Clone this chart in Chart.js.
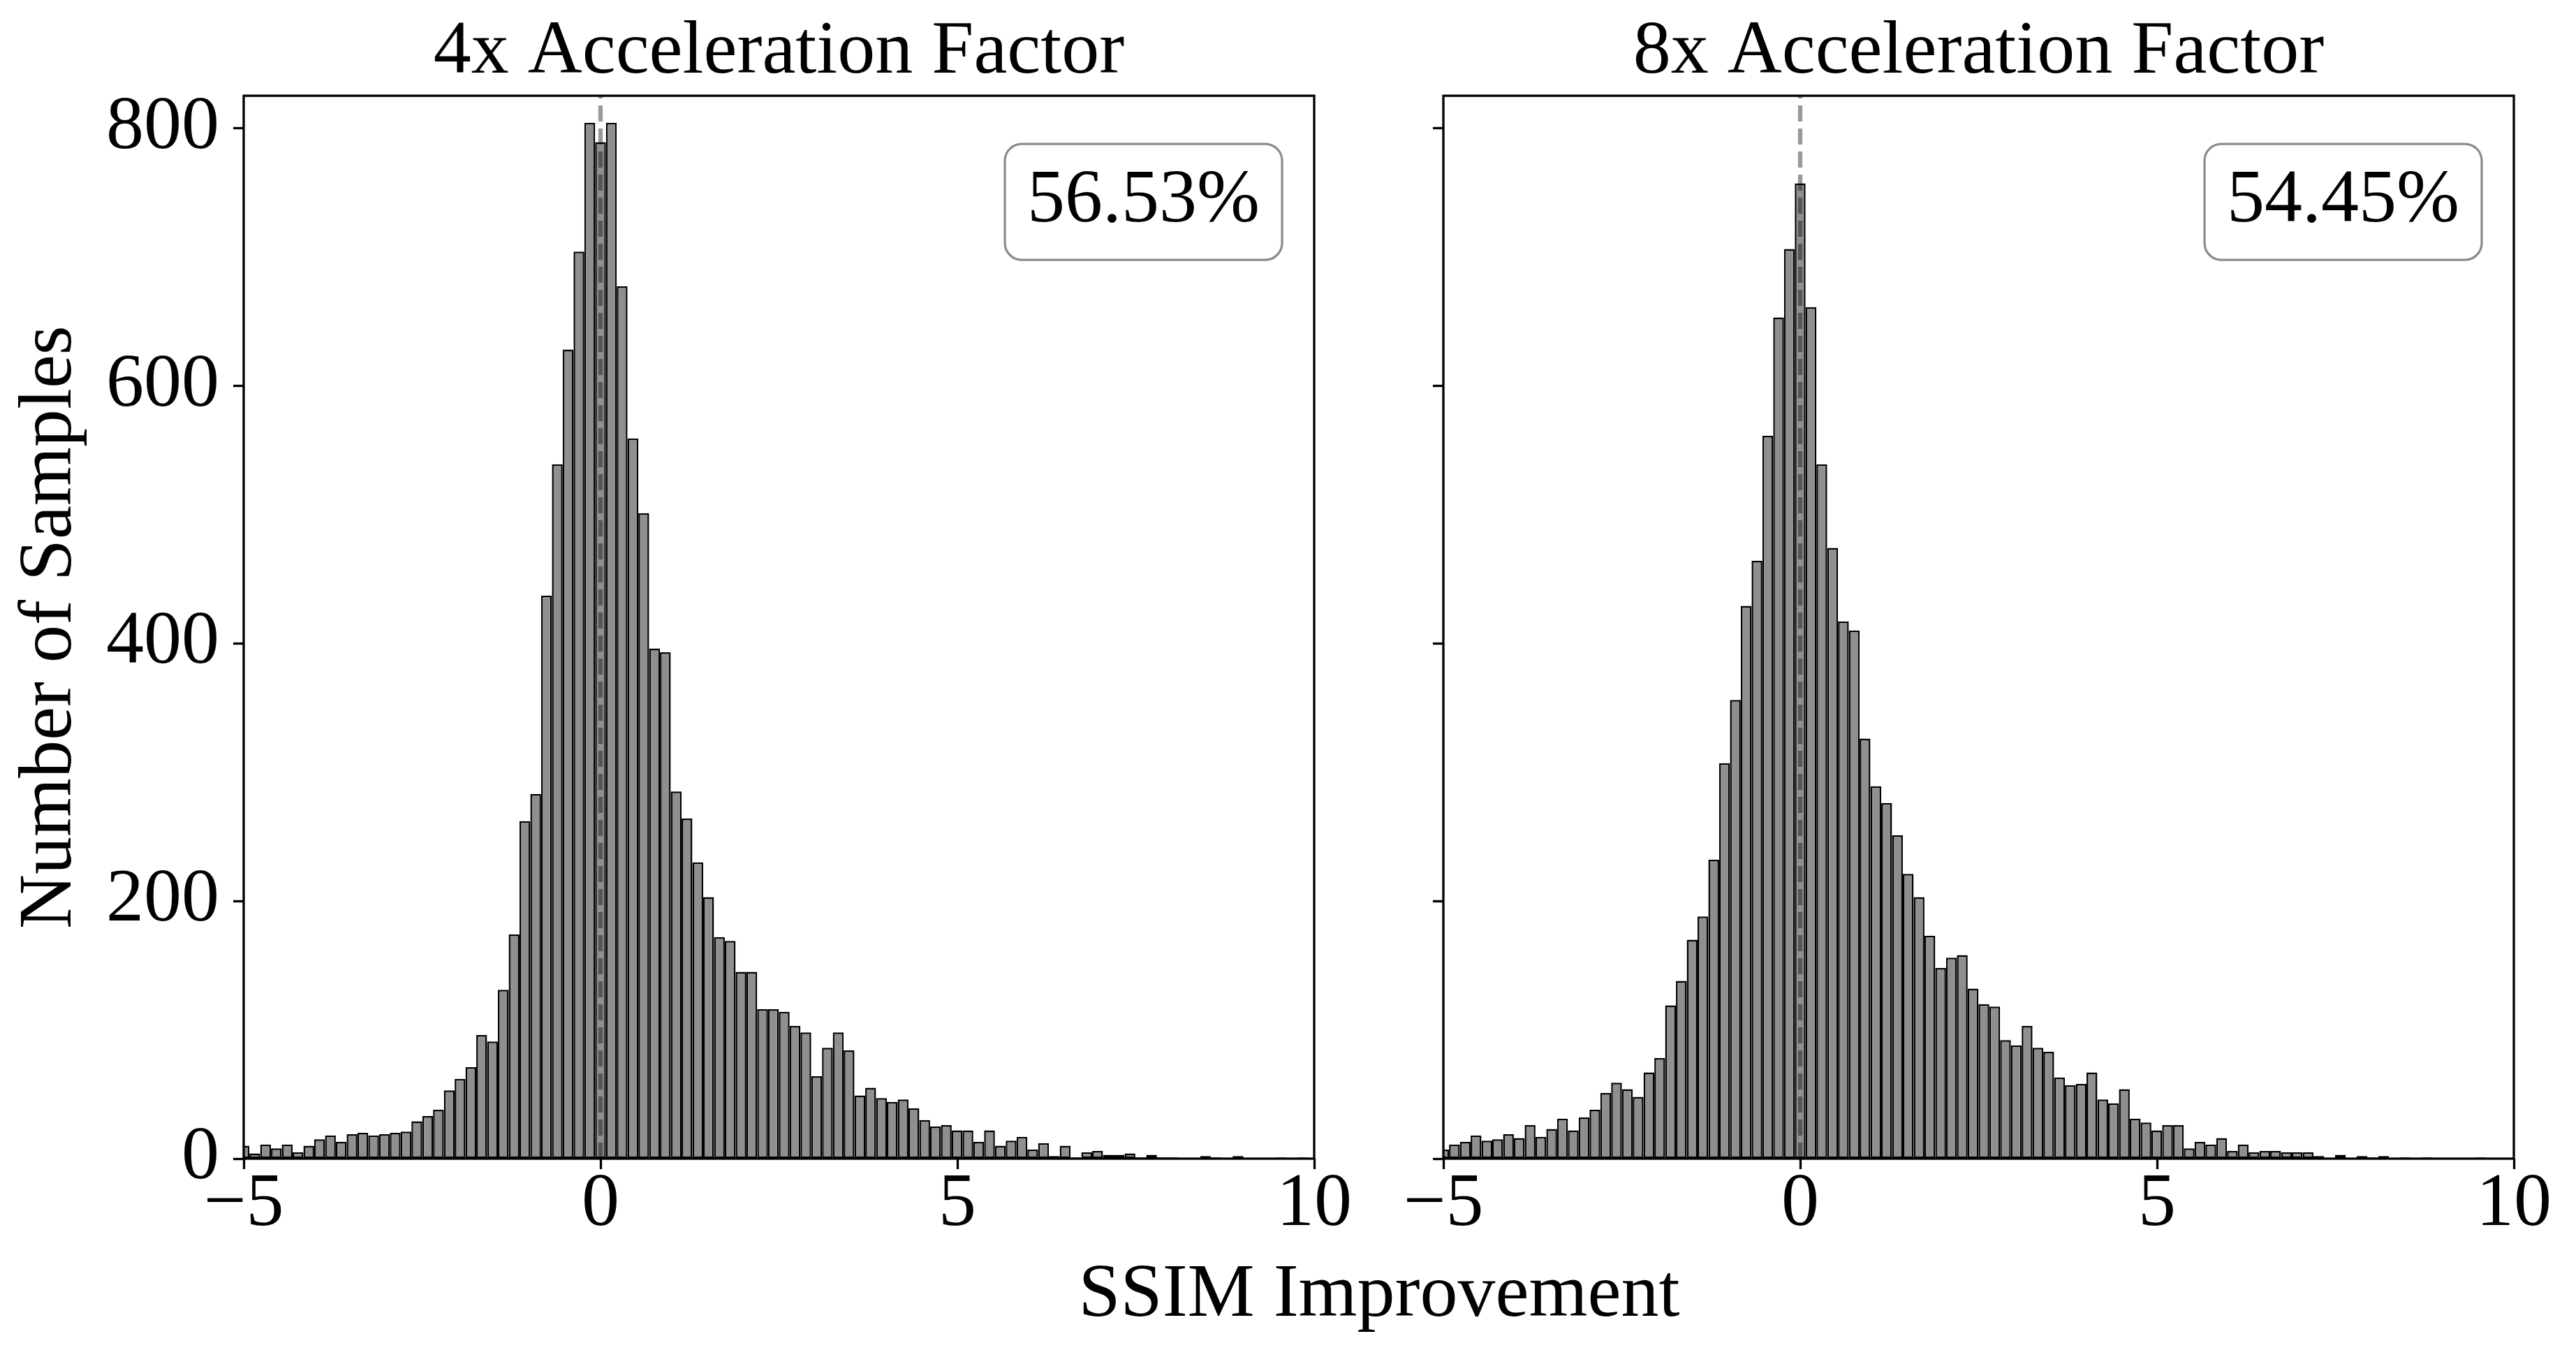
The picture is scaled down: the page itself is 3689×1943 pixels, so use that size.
<!DOCTYPE html>
<html>
<head>
<meta charset="utf-8">
<title>SSIM Improvement histograms</title>
<script src="https://cdn.jsdelivr.net/npm/chart.js@4.4.1/dist/chart.umd.min.js"></script>
<style>
  html, body { margin: 0; padding: 0; background: #fff; overflow: hidden; }
  #page { position: relative; width: 3689px; height: 1943px; background: #fff; }
  canvas { position: absolute; top: 0; }
  #left { left: 0; }
  #right { left: 1960px; }
  #xlabel {
    position: absolute; left: 1475px; width: 1000px; top: 1794px;
    text-align: center; color: #000;
    font: 108px/108px 'Liberation Serif', 'DejaVu Serif', serif;
  }
</style>
</head>
<body>
<div id="page">
  <canvas id="left" width="1960" height="1943"></canvas>
  <canvas id="right" width="1729" height="1943"></canvas>
  <div id="xlabel"></div>
</div>
<script>
// histogram bins, same for both panels (100 bins)
const binStart = -5.072
const binWidth = 0.1514

// counts per bin
const counts4x = [
  10, 4, 11, 8, 11, 5, 10, 15, 18, 13,
  19, 20, 18, 19, 20, 21, 29, 33, 38, 53,
  62, 71, 96, 91, 131, 174, 262, 283, 437, 539,
  628, 704, 804, 789, 804, 677, 559, 501, 396, 393,
  285, 264, 230, 203, 172, 169, 145, 145, 116, 116,
  114, 103, 98, 64, 86, 98, 84, 49, 55, 47,
  44, 46, 39, 30, 25, 26, 22, 22, 13, 22,
  10, 14, 17, 7, 12, 2, 10, 1, 5, 6,
  3, 3, 4, 1, 3, 1, 1, 0, 0, 2,
  1, 0, 2, 0, 0, 0, 1, 0, 1, 0
]
const counts8x = [
  7, 11, 13, 18, 14, 15, 19, 16, 26, 17,
  23, 31, 22, 32, 38, 51, 59, 54, 48, 67,
  78, 119, 138, 170, 188, 232, 307, 356, 429, 464,
  561, 653, 706, 757, 661, 539, 474, 417, 410, 326,
  289, 276, 251, 221, 203, 173, 148, 156, 158, 132,
  120, 118, 92, 88, 103, 86, 83, 63, 57, 58,
  67, 46, 43, 54, 31, 28, 22, 26, 26, 8,
  13, 11, 16, 6, 11, 5, 6, 6, 5, 5,
  5, 2, 0, 3, 0, 2, 1, 2, 0, 1,
  0, 1, 0, 0, 0, 0, 1, 0, 0, 0
]

const xTicks = [-5, 0, 5, 10]
const yTicks = [0, 200, 400, 600, 800]
const titles = ['4x Acceleration Factor', '8x Acceleration Factor']
const percents = ['56.53%', '54.45%']
const xLabel = 'SSIM Improvement'
const yLabel = 'Number of Samples'

const FONT = "'Liberation Serif', 'DejaVu Serif', serif"
Chart.defaults.font.family = FONT
Chart.defaults.color = '#000'

document.getElementById('xlabel').textContent = xLabel

// dashed line at x = 0, drawn over the bars
const zeroLine = {
  id: 'zeroLine',
  afterDatasetsDraw(chart) {
    const { ctx, chartArea: a, scales: { x } } = chart
    const px = x.getPixelForValue(0)
    ctx.save()
    ctx.strokeStyle = 'rgba(0,0,0,0.4)'
    ctx.lineWidth = 6.25
    ctx.setLineDash([23, 10])
    ctx.beginPath()
    ctx.moveTo(px, a.bottom)
    ctx.lineTo(px, a.top)
    ctx.stroke()
    ctx.restore()
  }
}

// full box around the plot area
const frame = {
  id: 'frame',
  afterDatasetsDraw(chart) {
    const { ctx, chartArea: a } = chart
    ctx.save()
    ctx.strokeStyle = '#000'
    ctx.lineWidth = 3.3
    ctx.strokeRect(a.left, a.top, a.width, a.height)
    ctx.restore()
  }
}

// rounded box with the percentage
const percentBox = {
  id: 'percentBox',
  afterDraw(chart, args, opts) {
    const { ctx, chartArea: a } = chart
    ctx.save()
    ctx.font = '108px ' + FONT
    const tw = ctx.measureText(opts.text).width
    const pad = 32
    const right = a.left + 0.97 * a.width
    const left = right - tw - 2 * pad
    const top = a.top + 0.0453 * a.height
    const h = 166
    ctx.beginPath()
    ctx.roundRect(left, top, right - left, h, 24)
    ctx.fillStyle = '#fff'
    ctx.fill()
    ctx.lineWidth = 3.3
    ctx.strokeStyle = '#8c8c8c'
    ctx.stroke()
    ctx.fillStyle = '#000'
    ctx.textAlign = 'center'
    ctx.textBaseline = 'alphabetic'
    ctx.fillText(opts.text, (left + right) / 2, top + 111)
    ctx.restore()
  }
}

function makeChart(id, counts, title, percent, first) {
  const points = counts.map((c, i) => ({ x: binStart + binWidth * (i + 0.5), y: c }))
  return new Chart(document.getElementById(id), {
    type: 'bar',
    data: {
      datasets: [{
        data: points,
        backgroundColor: '#8f8f8f',
        borderColor: '#000',
        borderWidth: 2.5,
        borderSkipped: false,
        inflateAmount: 0,
        barPercentage: 1,
        categoryPercentage: 1,
        clip: 0
      }]
    },
    options: {
      responsive: false,
      animation: false,
      devicePixelRatio: 1,
      layout: { padding: { left: 0, top: 0, right: first ? 78 : 89, bottom: 0 } },
      plugins: {
        legend: { display: false },
        tooltip: { enabled: false },
        title: {
          display: true,
          text: title,
          fullSize: false,
          color: '#000',
          font: { size: 108, weight: 'normal', lineHeight: 1.2 },
          padding: { top: 11, bottom: -3.5 }
        },
        percentBox: { text: percent }
      },
      scales: {
        x: {
          type: 'linear',
          min: -5,
          max: 10,
          offset: false,
          afterBuildTicks: s => { s.ticks = xTicks.map(v => ({ value: v })) },
          afterFit: s => { s.height = 284 },
          border: { display: false },
          grid: {
            offset: false, drawOnChartArea: false, drawTicks: true,
            tickLength: 15, tickWidth: 3.3, tickColor: '#000'
          },
          ticks: {
            maxRotation: 0,
            autoSkip: false,
            padding: -2,
            color: '#000',
            font: { size: 108, lineHeight: 1 },
            callback: v => v < 0 ? '\u2212' + Math.abs(v) : String(v)
          }
        },
        y: {
          type: 'linear',
          min: 0,
          max: 825,
          afterBuildTicks: s => { s.ticks = yTicks.map(v => ({ value: v })) },
          afterFit: s => { s.width = first ? 349 : 107 },
          border: { display: false },
          grid: {
            drawOnChartArea: false, drawTicks: true,
            tickLength: 15, tickWidth: 3.3, tickColor: '#000'
          },
          ticks: {
            display: first,
            padding: 20,
            color: '#000',
            font: { size: 108, lineHeight: 1 },
            callback: v => String(v)
          },
          title: {
            display: first,
            text: yLabel,
            color: '#000',
            font: { size: 108, lineHeight: 1.2 },
            padding: { top: 8, bottom: 0 }
          }
        }
      }
    },
    plugins: [zeroLine, frame, percentBox]
  })
}

makeChart('left', counts4x, titles[0], percents[0], true)
makeChart('right', counts8x, titles[1], percents[1], false)
</script>
</body>
</html>
